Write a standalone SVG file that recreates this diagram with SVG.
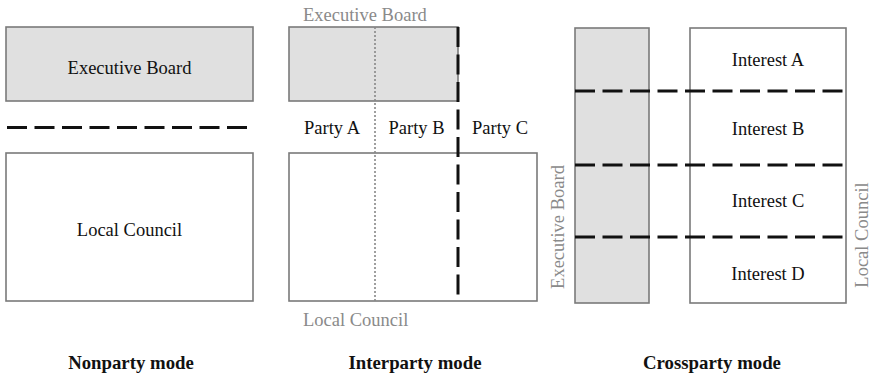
<svg xmlns="http://www.w3.org/2000/svg" width="872" height="377" viewBox="0 0 872 377">
  <style>
    .box { stroke: #7a7a7a; stroke-width: 1.6; }
    .board { fill: #e0e0e0; }
    .council { fill: #ffffff; }
    .label { font-family: "Liberation Serif", "DejaVu Serif", serif; font-size: 18.5px; fill: #111; }
    .muted { font-family: "Liberation Serif", "DejaVu Serif", serif; font-size: 18.5px; fill: #8a8a8a; }
    .title { font-family: "Liberation Serif", "DejaVu Serif", serif; font-size: 18.8px; font-weight: bold; fill: #111; }
    .dash { stroke: #111; stroke-width: 3; stroke-dasharray: 20 7.5; fill: none; }
    .dot { stroke: #888; stroke-width: 1.6; stroke-dasharray: 2 2; fill: none; }
  </style>

  <!-- Nonparty mode -->
  <g id="nonparty-board">
    <rect class="box board" x="6" y="27" width="247" height="74"/>
    <text class="label" x="129.5" y="74" text-anchor="middle">Executive Board</text>
  </g>
  <g id="nonparty-council">
    <rect class="box council" x="6" y="153" width="247" height="148"/>
    <text class="label" x="129.5" y="236" text-anchor="middle">Local Council</text>
  </g>
  <text class="title" x="131" y="369" text-anchor="middle">Nonparty mode</text>

  <!-- Interparty mode -->
  <g id="interparty-board">
    <rect class="box board" x="289" y="27" width="169" height="74"/>
    <text class="muted" x="303" y="21">Executive Board</text>
  </g>
  <g id="interparty-council">
    <rect class="box council" x="289" y="153" width="248" height="148"/>
    <text class="muted" x="303" y="326">Local Council</text>
  </g>
  <g id="parties">
    <text class="label" x="332" y="134" text-anchor="middle">Party A</text>
    <text class="label" x="416.5" y="134" text-anchor="middle">Party B</text>
    <text class="label" x="500" y="134" text-anchor="middle">Party C</text>
  </g>
  <text class="title" x="415" y="369" text-anchor="middle">Interparty mode</text>

  <!-- Crossparty mode -->
  <g id="crossparty-board">
    <rect class="box board" x="575" y="28" width="74" height="275"/>
    <text class="muted" transform="translate(564 227) rotate(-90)" text-anchor="middle">Executive Board</text>
  </g>
  <g id="crossparty-council">
    <rect class="box council" x="690" y="28" width="156" height="275"/>
    <text class="muted" transform="translate(868 235) rotate(-90)" text-anchor="middle">Local Council</text>
  </g>
  <g id="interests">
    <text class="label" x="768" y="66" text-anchor="middle">Interest A</text>
    <text class="label" x="768" y="135" text-anchor="middle">Interest B</text>
    <text class="label" x="768" y="207" text-anchor="middle">Interest C</text>
    <text class="label" x="768" y="280" text-anchor="middle">Interest D</text>
  </g>
  <text class="title" x="712" y="369" text-anchor="middle">Crossparty mode</text>

  <!-- Dividing lines -->
  <g id="connectors">
    <line class="dash" x1="7" y1="127.5" x2="248" y2="127.5"/>
    <line class="dot" x1="375" y1="27" x2="375" y2="301"/>
    <line class="dash" x1="458" y1="27" x2="458" y2="297"/>
    <line class="dash" x1="575" y1="91" x2="846" y2="91"/>
    <line class="dash" x1="575" y1="165" x2="846" y2="165"/>
    <line class="dash" x1="575" y1="237" x2="846" y2="237"/>
  </g>
</svg>
